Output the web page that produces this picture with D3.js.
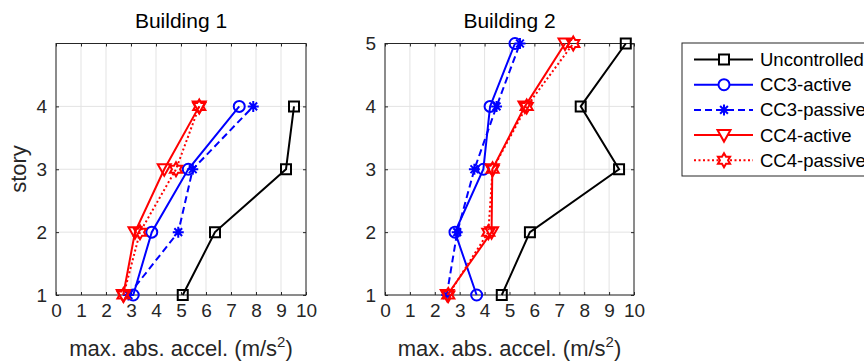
<!DOCTYPE html>
<html>
<head>
<meta charset="utf-8">
<script src="https://cdn.jsdelivr.net/npm/d3@7"></script>
<style>
  body { margin: 0; background: #fff; }
  svg { display: block; font-family: "Liberation Sans", Arial, sans-serif; }
</style>
</head>
<body>
<div class="graph"></div>
<script>
// building 1 (4 stories)
const stories1 = [1, 2, 3, 4];
const b1Uncontrolled = [5.07, 6.36, 9.2, 9.52];
const b1CC3Active = [3.09, 3.83, 5.29, 7.33];
const b1CC3Passive = [2.9, 4.89, 5.47, 7.89];
const b1CC4Active = [2.69, 3.16, 4.33, 5.73];
const b1CC4Passive = [2.7, 3.36, 4.8, 5.73];

// building 2 (5 stories)
const stories2 = [1, 2, 3, 4, 5];
const b2Uncontrolled = [4.69, 5.82, 9.4, 7.86, 9.67];
const b2CC3Active = [3.68, 2.81, 3.95, 4.22, 5.22];
const b2CC3Passive = [2.48, 2.9, 3.59, 4.48, 5.42];
const b2CC4Active = [2.5, 4.28, 4.31, 5.62, 7.23];
const b2CC4Passive = [2.54, 4.15, 4.32, 5.69, 7.56];

const xTicks = [0, 1, 2, 3, 4, 5, 6, 7, 8, 9, 10];
const seriesNames = ["Uncontrolled", "CC3-active", "CC3-passive", "CC4-active", "CC4-passive"];

const width = 864, height = 364;
const axisColor = "#262626";
const gridColor = "#e3e3e3";

const styles = [
    { color: "#000000", dash: null, marker: "square" },
    { color: "#0000ff", dash: null, marker: "circle" },
    { color: "#0000ff", dash: "7,4", marker: "asterisk" },
    { color: "#ff0000", dash: null, marker: "triangle" },
    { color: "#ff0000", dash: "2,2.5", marker: "hexagram" },
];

function markerPath(kind) {
    if (kind === "square") return "M-5,-5h10v10h-10z";
    if (kind === "circle") return "M5.5,0A5.5,5.5 0 1,1 -5.5,0A5.5,5.5 0 1,1 5.5,0z";
    if (kind === "triangle") return "M-6.5,-5L6.5,-5L0,6.5z";
    if (kind === "asterisk") {
        const r = 5.5, d = r * 0.707;
        return `M0,${-r}V${r}M${-r},0H${r}M${-d},${-d}L${d},${d}M${-d},${d}L${d},${-d}`;
    }
    // hexagram
    const ro = 7, ri = ro / Math.sqrt(3);
    const pts = d3.range(12).map(i => {
        const a = -Math.PI / 2 + i * Math.PI / 6;
        const r = i % 2 === 0 ? ro : ri;
        return [r * Math.cos(a), r * Math.sin(a)];
    });
    return "M" + pts.map(p => p.join(",")).join("L") + "Z";
}

const svg = d3.select(".graph")
    .append("svg")
    .attr("width", width)
    .attr("height", height);

function drawPanel(left, right, title, stories, yTicks, series) {
    const top = 43.5, bottom = 295;
    const x = d3.scaleLinear().domain([0, 10]).range([left, right]);
    const y = d3.scaleLinear().domain([1, 5]).range([bottom, top]);
    const g = svg.append("g");

    // grid
    g.selectAll(".vgrid").data(xTicks).enter()
        .append("line")
        .attr("x1", d => x(d)).attr("x2", d => x(d))
        .attr("y1", top).attr("y2", bottom)
        .attr("stroke", gridColor).attr("stroke-width", 1);
    g.selectAll(".hgrid").data(yTicks).enter()
        .append("line")
        .attr("x1", left).attr("x2", right)
        .attr("y1", d => y(d)).attr("y2", d => y(d))
        .attr("stroke", gridColor).attr("stroke-width", 1);

    // axes with inward ticks
    const fmt = d3.format("d");
    const bottomAxis = d3.axisBottom(x).tickValues(xTicks).tickFormat(fmt).tickSizeInner(-3).tickSizeOuter(0).tickPadding(9);
    const topAxis = d3.axisTop(x).tickValues(xTicks).tickSizeInner(-3).tickSizeOuter(0).tickFormat("");
    const leftAxis = d3.axisLeft(y).tickValues(yTicks).tickFormat(fmt).tickSizeInner(-3).tickSizeOuter(0).tickPadding(9);
    const rightAxis = d3.axisRight(y).tickValues(yTicks).tickSizeInner(-3).tickSizeOuter(0).tickFormat("");

    const axes = [
        g.append("g").attr("transform", `translate(0,${bottom})`).call(bottomAxis),
        g.append("g").attr("transform", `translate(0,${top})`).call(topAxis),
        g.append("g").attr("transform", `translate(${left},0)`).call(leftAxis),
        g.append("g").attr("transform", `translate(${right},0)`).call(rightAxis),
    ];
    axes.forEach(a => {
        a.select(".domain").remove();
        a.selectAll("line").attr("stroke", axisColor);
        a.selectAll("text").attr("fill", axisColor)
            .style("font-size", "19px").style("font-family", "Liberation Sans, Arial, sans-serif");
    });

    g.append("rect")
        .attr("x", left).attr("y", top)
        .attr("width", right - left).attr("height", bottom - top)
        .attr("fill", "none").attr("stroke", axisColor).attr("stroke-width", 1);

    // series
    const line = d3.line().x(d => x(d[0])).y(d => y(d[1]));
    series.forEach((vals, i) => {
        const st = styles[i];
        const pts = vals.map((v, j) => [v, stories[j]]);
        g.append("path")
            .datum(pts)
            .attr("d", line)
            .attr("fill", "none")
            .attr("stroke", st.color)
            .attr("stroke-width", 2)
            .attr("stroke-dasharray", st.dash);
        g.selectAll(".m" + i).data(pts).enter()
            .append("path")
            .attr("transform", d => `translate(${x(d[0])},${y(d[1])})`)
            .attr("d", markerPath(st.marker))
            .attr("fill", "none")
            .attr("stroke", st.color)
            .attr("stroke-width", 2);
    });

    const cx = (left + right) / 2;
    g.append("text")
        .attr("x", cx).attr("y", 28)
        .attr("text-anchor", "middle")
        .attr("fill", "#000")
        .style("font-size", "21px")
        .text(title);

    const xl = g.append("text")
        .attr("x", cx).attr("y", 356)
        .attr("text-anchor", "middle")
        .attr("fill", axisColor)
        .style("font-size", "22px");
    xl.append("tspan").text("max. abs. accel. (m/s");
    xl.append("tspan").attr("dy", -9).style("font-size", "15px").text("2");
    xl.append("tspan").attr("dy", 9).text(")");
    return { x, y };
}

drawPanel(56, 306, "Building 1", stories1, [1, 2, 3, 4],
    [b1Uncontrolled, b1CC3Active, b1CC3Passive, b1CC4Active, b1CC4Passive]);
drawPanel(385, 634, "Building 2", stories2, [1, 2, 3, 4, 5],
    [b2Uncontrolled, b2CC3Active, b2CC3Passive, b2CC4Active, b2CC4Passive]);

svg.append("text")
    .attr("transform", "translate(26,169) rotate(-90)")
    .attr("text-anchor", "middle")
    .attr("fill", axisColor)
    .style("font-size", "22px")
    .text("story");

// legend
const legendTop = 43, rowGap = 25.2;
svg.append("rect")
    .attr("x", 682).attr("y", legendTop)
    .attr("width", 200).attr("height", 133)
    .attr("fill", "#fff").attr("stroke", axisColor).attr("stroke-width", 1);

const legend = svg.selectAll(".legend").data(seriesNames).enter()
    .append("g")
    .attr("transform", (_, i) => `translate(0,${59.5 + i * rowGap})`);
legend.append("line")
    .attr("x1", 694).attr("x2", 753)
    .attr("stroke", (_, i) => styles[i].color)
    .attr("stroke-width", 2)
    .attr("stroke-dasharray", (_, i) => styles[i].dash);
legend.append("path")
    .attr("transform", "translate(724,0)")
    .attr("d", (_, i) => markerPath(styles[i].marker))
    .attr("fill", "#fff")
    .attr("stroke", (_, i) => styles[i].color)
    .attr("stroke-width", 2);
legend.append("text")
    .attr("x", 760).attr("y", 6.5)
    .attr("fill", "#000")
    .style("font-size", "18.5px")
    .text(d => d);
</script>
</body>
</html>
